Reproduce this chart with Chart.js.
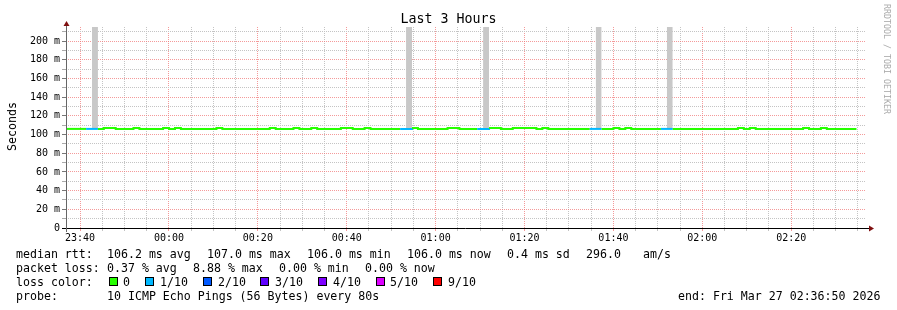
<!DOCTYPE html>
<html>
<head>
<meta charset="utf-8">
<title>Last 3 Hours</title>
<script src="https://cdn.jsdelivr.net/npm/chart.js@4.4.1/dist/chart.umd.min.js"></script>
<style>
html,body{margin:0;padding:0;background:#fff;}
#wrap{position:relative;width:897px;height:310px;overflow:hidden;background:#fff;font-family:'DejaVu Sans Mono',monospace;color:#000;}
#c{position:absolute;left:0;top:0;}
.txt{position:absolute;white-space:pre;font-size:11.6px;line-height:14px;}
#title{position:absolute;left:0;top:11px;width:897px;text-align:center;font-size:13.3px;line-height:16px;white-space:pre;}
#ylab{position:absolute;left:5px;top:151px;transform:rotate(-90deg);transform-origin:0 0;font-size:11.6px;line-height:14px;white-space:pre;}
#wm{position:absolute;left:891px;top:4px;transform:rotate(90deg);transform-origin:0 0;font-size:8.3px;line-height:9px;color:#aaa;white-space:pre;}
.box{position:absolute;width:9px;height:9px;box-sizing:border-box;border:1px solid #000;}
</style>
</head>
<body>
<div id="wrap">
<canvas id="c" width="897" height="310"></canvas>
<div id="title">Last 3 Hours</div>
<div id="ylab">Seconds</div>
<div id="wm">RRDTOOL / TOBI OETIKER</div>
<div id="legend"></div>
</div>
<script>
// ---------------- data ----------------
const graphStartClock = '23:36:50';
const graphEndText = 'end: Fri Mar 27 02:36:50 2026';
const spanMinutes = 180;
const firstSampleClock = '23:36:01';
const stepSeconds = 80;

const xTickLabels = ['23:40','00:00','00:20','00:40','01:00','01:20','01:40','02:00','02:20'];
const yTickValues = [0,20,40,60,80,100,120,140,160,180,200];
const yTickLabels = ['0','20 m','40 m','60 m','80 m','100 m','120 m','140 m','160 m','180 m','200 m'];

// median rtt (ms) per 80 s step
const medianRtt = [
  106,106,106,106,106,106,106,107,107,106,
  106,106,107,106,106,106,106,107,106,107,
  106,106,106,106,106,106,107,106,106,106,
  106,106,106,106,106,107,106,106,106,107,
  106,106,107,106,106,106,106,107,107,106,
  106,107,106,106,106,106,106,106,106,107,
  106,106,106,106,106,107,107,106,106,106,
  106,106,107,107,106,106,107,107,107,107,
  106,107,106,106,106,106,106,106,106,106,
  106,106,106,107,106,107,106,106,106,106,
  106,106,106,106,106,106,106,106,106,106,
  106,106,106,106,107,106,107,106,106,106,
  106,106,106,106,106,107,106,106,107,106,
  106,106,106,106,null,null
];
// steps with packet loss (index into medianRtt) and lost pings out of 10
const lossSteps = [5,58,71,90,102];
const lossTenths = [1,1,1,1,1];
// smoke (ping spread) at those steps, ms
const smokeLow = [106,106,106,106,106];
const smokeHigh = [260,260,260,260,260];

const medianStats = ['106.2 ms avg','107.0 ms max','106.0 ms min','106.0 ms now','0.4 ms sd','296.0','am/s'];
const lossStats = ['0.37 % avg','8.88 % max','0.00 % min','0.00 % now'];
const lossLegendLabels = ['0','1/10','2/10','3/10','4/10','5/10','9/10'];
const lossLegendColors = ['#26ff00','#00b8ff','#0059ff','#5e00ff','#7e00ff','#dd00ff','#ff0000'];
const probeText = '10 ICMP Echo Pings (56 Bytes) every 80s';

// ---------------- helpers ----------------
function clockToSec(c){const p=c.split(':').map(Number);return p[0]*3600+p[1]*60+(p[2]||0);}
const startSec = clockToSec(graphStartClock);
function relMin(clock){let d=clockToSec(clock)-startSec; if(d<-43200)d+=86400; if(d>43200)d-=86400; return d/60;}
const stepMin = stepSeconds/60;
const firstSampleMin = relMin(firstSampleClock);
const stepStart = k => firstSampleMin + k*stepMin;

const lossByStep = medianRtt.map(()=>0);
lossSteps.forEach((k,i)=>{lossByStep[k]=lossTenths[i];});
const lossColorFor = n => lossLegendColors[Math.min(n,5)] || '#ff0000';

const xMajor = xTickLabels.map(l => relMin(l + ':00'));
const xGrid = [];
for (let t = xMajor[0] - 5*Math.floor(xMajor[0]/5); t <= spanMinutes + 1e-9; t += 5) xGrid.push(t);
const isXMajor = v => xMajor.some(m => Math.abs(m - v) < 1e-6);
const yGrid = [];
for (let v = 0; v <= 210; v += 10) yGrid.push(v);

// line points (each step drawn flat across its 80 s interval)
const linePts = [];
medianRtt.forEach((v,k)=>{
  if (v == null) return;
  linePts.push({x: stepStart(k), y: v, k: k});
  linePts.push({x: stepStart(k+1), y: v, k: k});
});
// smoke polygons
const smokePts = [];
lossSteps.forEach((k,i)=>{
  smokePts.push({x: stepStart(k), y: smokeHigh[i]});
  smokePts.push({x: stepStart(k+1), y: smokeHigh[i]});
  smokePts.push({x: stepStart(k+1), y: null});
});

const RED = 'rgba(240,120,120,0.75)';
const GREY = '#c4c4c4';

const axesPlugin = {
  id: 'rrdAxes',
  afterDatasetsDraw(chart){
    const {ctx, chartArea: a} = chart;
    ctx.save();
    ctx.lineWidth = 1;
    ctx.strokeStyle = '#000';
    ctx.beginPath();
    ctx.moveTo(a.left - 4, Math.round(a.bottom) + 0.5);
    ctx.lineTo(a.right + 3, Math.round(a.bottom) + 0.5);
    ctx.stroke();
    ctx.strokeStyle = '#666';
    ctx.beginPath();
    ctx.moveTo(Math.round(a.left) + 0.5, a.bottom + 4);
    ctx.lineTo(Math.round(a.left) + 0.5, a.top - 2);
    ctx.stroke();
    ctx.fillStyle = '#7f1010';
    const ax = Math.round(a.left) + 0.5, ay = a.top - 6;
    ctx.beginPath(); ctx.moveTo(ax, ay); ctx.lineTo(ax - 3, ay + 5); ctx.lineTo(ax + 3, ay + 5); ctx.closePath(); ctx.fill();
    const bx = a.right + 8, by = Math.round(a.bottom) + 0.5;
    ctx.beginPath(); ctx.moveTo(bx, by); ctx.lineTo(bx - 5, by - 3); ctx.lineTo(bx - 5, by + 3); ctx.closePath(); ctx.fill();
    ctx.restore();
  }
};

Chart.defaults.font.family = "'DejaVu Sans Mono', monospace";
new Chart(document.getElementById('c'), {
  type: 'line',
  data: {
    datasets: [
      {
        label: 'median',
        data: linePts,
        borderWidth: 2,
        borderColor: '#26ff00',
        pointRadius: 0,
        pointHitRadius: 0,
        tension: 0,
        borderCapStyle: 'butt',
        borderJoinStyle: 'miter',
        fill: false,
        order: 0,
        segment: {
          borderColor: c => {
            const k = linePts[c.p0DataIndex].k;
            return lossColorFor(lossByStep[k] || lossByStep[k+1] || 0);
          }
        }
      },
      {
        label: 'smoke',
        data: smokePts,
        borderWidth: 0,
        borderColor: 'rgba(0,0,0,0)',
        backgroundColor: '#c8c8c8',
        pointRadius: 0,
        tension: 0,
        spanGaps: false,
        fill: {value: smokeLow[0]},
        order: 1
      }
    ]
  },
  options: {
    responsive: false,
    animation: false,
    devicePixelRatio: 1,
    events: [],
    layout: {padding: {left: 0, right: 31, top: 27, bottom: 62}},
    plugins: {legend: {display: false}, tooltip: {enabled: false}, title: {display: false}},
    scales: {
      x: {
        type: 'linear', min: 0, max: spanMinutes, offset: false,
        afterBuildTicks: s => { s.ticks = xGrid.map(v => ({value: v})); },
        afterFit: s => { s.height = 20; },
        grid: {
          offset: false, lineWidth: 1, drawTicks: true, tickLength: 3,
          color: c => (c.tick && isXMajor(c.tick.value)) ? RED : GREY,
          tickColor: c => (c.tick && isXMajor(c.tick.value)) ? RED : GREY,
          tickBorderDash: []
        },
        border: {display: false, dash: [1,1]},
        ticks: {
          autoSkip: false, maxRotation: 0, minRotation: 0, padding: 1,
          color: '#000', font: {size: 10},
          callback: v => { const i = xMajor.findIndex(m => Math.abs(m - v) < 1e-6); return i >= 0 ? xTickLabels[i] : ''; }
        }
      },
      y: {
        type: 'linear', min: 0, max: 215,
        afterBuildTicks: s => { s.ticks = yGrid.map(v => ({value: v})); },
        afterFit: s => { s.width = 66; },
        grid: {
          lineWidth: 1, drawTicks: true, tickLength: 4,
          color: c => (c.tick && c.tick.value % 20 === 0) ? RED : GREY,
          tickColor: c => (c.tick && c.tick.value % 20 === 0) ? '#777' : '#aaa',
          tickBorderDash: []
        },
        border: {display: false, dash: [1,1]},
        ticks: {
          autoSkip: false, padding: 2, color: '#000', font: {size: 10},
          callback: v => { const i = yTickValues.indexOf(v); return i >= 0 ? yTickLabels[i] : ''; }
        }
      }
    }
  },
  plugins: [axesPlugin]
});

// ---------------- legend text ----------------
const leg = document.getElementById('legend');
function addText(txt, x, y){const d=document.createElement('div');d.className='txt';d.style.left=x+'px';d.style.top=y+'px';d.textContent=txt;leg.appendChild(d);return d;}
const rowTop = [247, 261, 275, 289];
addText('median rtt:', 16, rowTop[0]);
[107,207,307,407,507,586,643].forEach((x,i)=>addText(medianStats[i], x, rowTop[0]));
addText('packet loss:', 16, rowTop[1]);
[107,193,279,365].forEach((x,i)=>addText(lossStats[i], x, rowTop[1]));
addText('loss color:', 16, rowTop[2]);
let bx = 108.5;
lossLegendLabels.forEach((lab,i)=>{
  const b=document.createElement('div');b.className='box';b.style.left=Math.round(bx)+'px';b.style.top=(rowTop[2]+2)+'px';b.style.background=lossLegendColors[i];leg.appendChild(b);
  const tx = bx + 14.7;
  addText(lab, Math.round(tx), rowTop[2]);
  bx = tx + lab.length*6.98 + 15;
});
addText('probe:', 16, rowTop[3]);
addText(probeText, 107, rowTop[3]);
addText(graphEndText, 678, rowTop[3]);
</script>
</body>
</html>
